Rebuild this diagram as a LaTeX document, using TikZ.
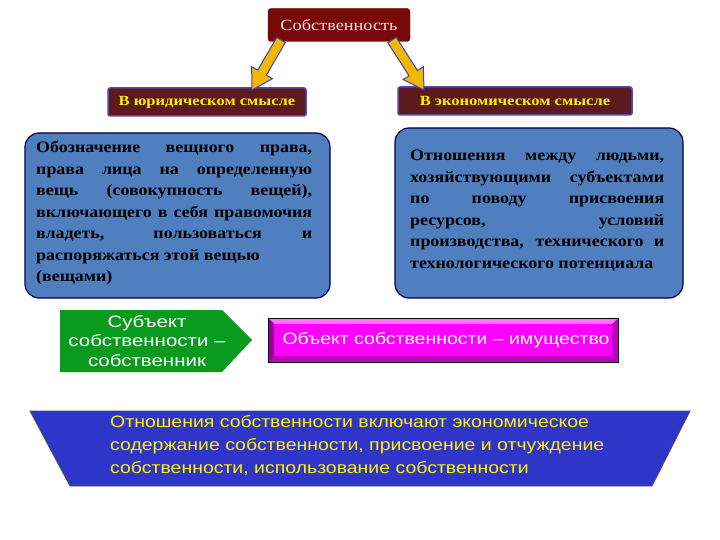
\documentclass[tikz,border=0pt]{standalone}
\usepackage{fontspec}
\setmainfont{Liberation Serif}[FakeStretch=1.12]
\newfontfamily\serifw{Liberation Serif}[FakeStretch=1.18]
\newfontfamily\sansf{Liberation Sans}[FakeStretch=1.18]
\newfontfamily\sansg{Liberation Sans}[FakeStretch=1.24]
\usetikzlibrary{calc}
\definecolor{dred}{HTML}{7A0A0A}
\definecolor{hdr}{HTML}{5C1A1E}
\definecolor{steel}{HTML}{4F7FBF}
\definecolor{gold}{HTML}{F2B800}
\definecolor{grn}{HTML}{0A9A1E}
\definecolor{mag}{HTML}{FF00FF}
\definecolor{royal}{HTML}{2E35C8}
\begin{document}
\begin{tikzpicture}[x=1pt,y=-1pt,
  hdrbox/.style={fill=hdr,draw=gray!60!blue,line width=1.5pt,rounded corners=2pt,text=yellow,font=\serifw\bfseries\fontsize{14}{16}\selectfont,inner sep=0pt},
  bluebox/.style={fill=steel,draw=blue!30!black,line width=1.2pt,rounded corners=14pt},
  bodytext/.style={font=\bfseries\fontsize{16}{21.5}\selectfont,align=justify,text=black,inner sep=0pt,anchor=north west},
  arr/.style={fill=gold,draw=gray!50!blue,line width=1pt}]
\useasboundingbox (0,0) rectangle (720,540);
\fill[white] (0,0) rectangle (720,540);
% top
\node[fill=dred,draw=dred!60!black,rounded corners=3pt,minimum width=142pt,minimum height=33pt,text=red!15,font=\serifw\fontsize{15.5}{17}\selectfont] (top) at (339,25) {Собственность};
% headers
\node[hdrbox,minimum width=198pt,minimum height=28pt] (hl) at (207,102) {В юридическом смысле};
\node[hdrbox,minimum width=234pt,minimum height=28pt] (hr) at (515,101) {В экономическом смысле};
% arrows
\foreach \ax/\ay/\bx/\by in {281/40/252/90, 392/40/424/90}{
  \coordinate (A) at (\ax,\ay); \coordinate (B) at (\bx,\by);
  \coordinate (H) at ($(B)!20pt!(A)$);
  \draw[arr] ($(A)!5pt!90:(B)$) -- ($(H)!5pt!90:(B)$) -- ($(H)!12pt!90:(B)$) -- (B)
   -- ($(H)!12pt!-90:(B)$) -- ($(H)!5pt!-90:(B)$) -- ($(A)!5pt!-90:(B)$) -- cycle;
}
% blue boxes
\draw[bluebox] (25,133) rectangle (330,298);
\node[bodytext,text width=276pt] (lt) at (36,141) {Обозначение вещного права,\linebreak права лица на определенную\linebreak вещь (совокупность вещей),\linebreak включающего в себя правомочия\linebreak владеть, пользоваться и\linebreak распоряжаться этой вещью\\(вещами)};
\draw[bluebox] (395,128) rectangle (683,298);
\node[bodytext,text width=254pt] (rt) at (410,150) {Отношения между людьми,\linebreak хозяйствующими субъектами\linebreak по поводу присвоения\linebreak ресурсов, условий\linebreak производства, технического и\linebreak технологического потенциала};
% green pentagon
\fill[grn] (60,310) -- (222,310) -- (252,340) -- (222,372) -- (60,372) -- cycle;
\node[text=white,font=\sansg\fontsize{16.5}{19.5}\selectfont,align=center] (subj) at (147,341) {Субъект\\собственности –\\собственник};
% magenta bevel
\fill[mag!75!black] (268,318) rectangle (618,362);
\fill[mag!55!white] (268,318) -- (618,318) -- (612,324) -- (274,324) -- cycle;
\fill[mag!60!black] (268,318) -- (274,324) -- (274,356) -- (268,362) -- cycle;
\fill[mag] (274,324) rectangle (612,356);
\draw[black,line width=0.6pt] (268,318) rectangle (618,362);
\node[text=white,font=\sansf\fontsize{16.5}{18}\selectfont] (obj) at (446,340) {Объект собственности – имущество};
% trapezoid
\draw[fill=royal,draw=black!70,line width=0.8pt] (30,411) -- (690,411) -- (652,486) -- (70,486) -- cycle;
\node[text=yellow,font=\sansf\fontsize{16.5}{23}\selectfont,align=left,anchor=north west,inner sep=0pt] (rel) at (110,415) {Отношения собственности включают экономическое\\содержание собственности, присвоение и отчуждение\\собственности, использование собственности};
\end{tikzpicture}
\end{document}
